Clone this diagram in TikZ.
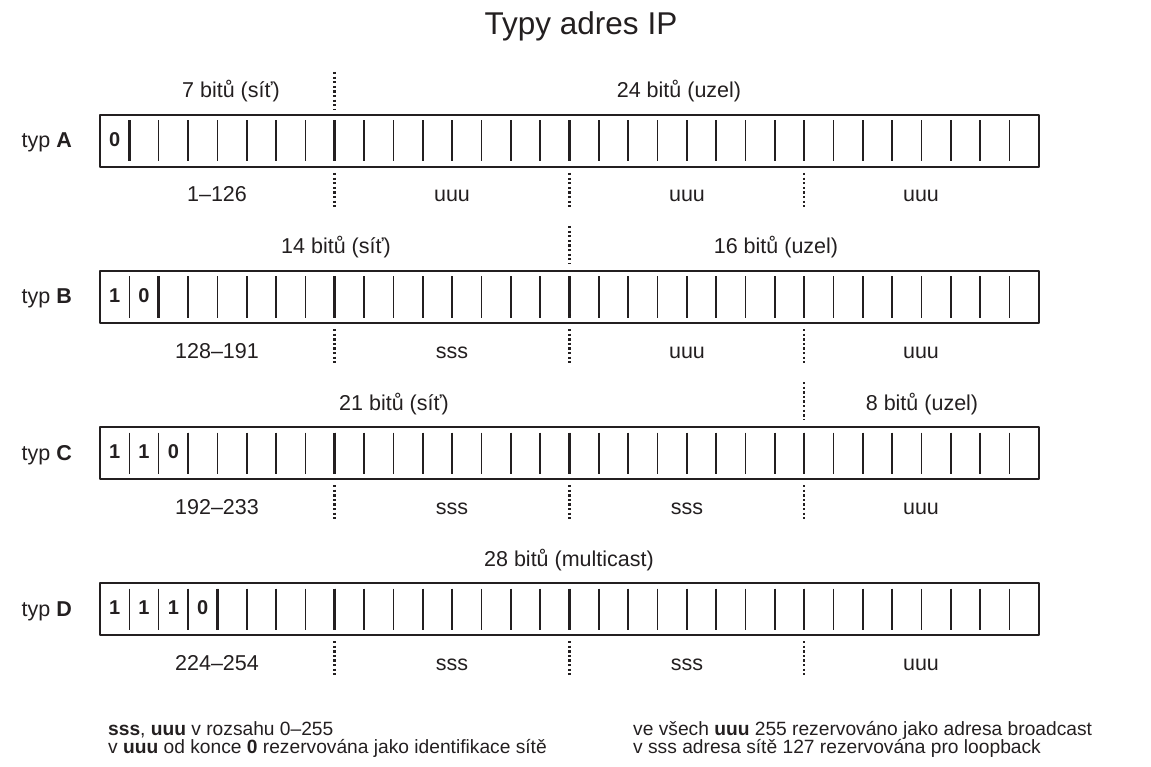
\documentclass[tikz,border=0pt]{standalone}
\usepackage{fontspec}
\setmainfont{Liberation Sans}
\definecolor{tmava}{HTML}{231F20}
\begin{document}
\begin{tikzpicture}[x=1pt,y=-1pt,line join=round,
	popisek/.style={font=\fontsize{21.5}{21.5}\selectfont,text=tmava,inner sep=0pt,anchor=base},
	poznamka/.style={font=\fontsize{19.2}{19.2}\selectfont,text=tmava,inner sep=0pt,anchor=base west},
	bit/.style={font=\fontsize{20}{20}\selectfont\bfseries,text=tmava,inner sep=0pt,anchor=base},
	tecky/.style={draw=tmava,line width=2.6pt,dash pattern=on 2.3pt off 2.3pt}]
	\tikzset{IP-ramec/.pic={
			\def\w{29.34}
			\draw[tmava,line width=2.6pt](0,0)rectangle(32*\w,52);
			\foreach \k in{1,...,31}
			\draw[tmava,line width=1.6pt](\k*\w,5.5)--(\k*\w,46.5);
			\foreach \k in{8,16,24}{
				\draw[tmava,line width=2.6pt](\k*\w,5.5)--(\k*\w,46.5);
				\draw[tecky](\k*\w,58)--(\k*\w,92);}
	}}
	\useasboundingbox(0,0)rectangle(1151,767);
	\node[font=\fontsize{31.5}{31.5}\selectfont,text=tmava,inner sep=0pt,anchor=base](nadpis)at(581,35){Typy adres IP};
	% radky s bity
	\foreach \typ/\y/\n/\bity in{A/115/1/{0},B/271/2/{1,0},C/427/3/{1,1,0},D/583/4/{1,1,1,0}}{
		\path(100,\y)pic{IP-ramec};
		\node[popisek,anchor=base east](typ-\typ)at(72,\y+33){typ \textbf{\typ}};
		\foreach \b [count=\i] in \bity
		\node[bit](bit-\typ-\i)at(100+29.34*\i-14.67,\y+31.5){\b};
		\draw[tmava,line width=2.6pt](100+29.34*\n,\y+5.5)--(100+29.34*\n,\y+46.5);
	}
	% horni popisky
	\draw[tecky](334.7,72)--(334.7,109);
	\node[popisek](A-sit)at(231,98){7 bitů (síť)};
	\node[popisek](A-uzel)at(679,98){24 bitů (uzel)};
	\draw[tecky](569.4,226)--(569.4,264);
	\node[popisek](B-sit)at(336,254){14 bitů (síť)};
	\node[popisek](B-uzel)at(776,254){16 bitů (uzel)};
	\draw[tecky](804,382)--(804,420);
	\node[popisek](C-sit)at(394,410){21 bitů (síť)};
	\node[popisek](C-uzel)at(922,410){8 bitů (uzel)};
	\node[popisek](D-multi)at(569,566){28 bitů (multicast)};
	% dolni popisky
	\foreach \typ/\y/\rozsah/\b/\c/\d in{A/202/1–126/uuu/uuu/uuu,B/358/128–191/sss/uuu/uuu,
		C/514/192–233/sss/sss/uuu,D/670/224–254/sss/sss/uuu}{
		\node[popisek](rozsah-\typ)at(217,\y){\rozsah};
		\node[popisek](b-\typ)at(452,\y){\b};
		\node[popisek](c-\typ)at(687,\y){\c};
		\node[popisek](d-\typ)at(921,\y){\d};
	}
	% poznamky
	\node[poznamka](pozn-1)at(108,735){\textbf{sss}, \textbf{uuu} v rozsahu 0–255};
	\node[poznamka](pozn-2)at(108,753){v \textbf{uuu} od konce \textbf{0} rezervována jako identifikace sítě};
	\node[poznamka](pozn-3)at(633,735){ve všech \textbf{uuu} 255 rezervováno jako adresa broadcast};
	\node[poznamka](pozn-4)at(633,753){v sss adresa sítě 127 rezervována pro loopback};
\end{tikzpicture}
\end{document}
